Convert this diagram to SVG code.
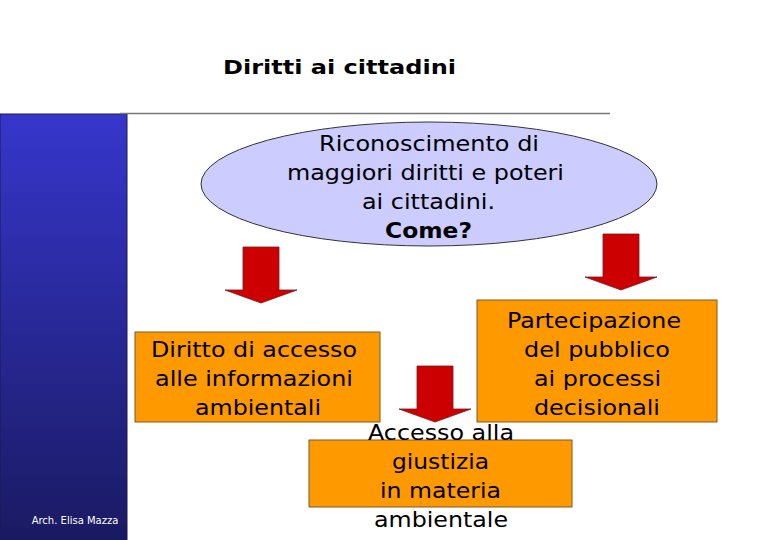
<svg xmlns="http://www.w3.org/2000/svg" width="762" height="540" viewBox="0 0 762 540">
<defs>
<linearGradient id="side" x1="0" y1="0" x2="0" y2="1">
<stop offset="0" stop-color="#3636cc"/>
<stop offset="1" stop-color="#1a1a62"/>
</linearGradient>
<path id="arrow" d="M-18,0 H18 V43 H36 L0,56 L-36,43 H-18 Z"/>
</defs>
<style>
text{font-family:"DejaVu Sans","Liberation Sans",sans-serif;fill:#000;text-anchor:middle}
.t{font-size:20.5px}
.box{fill:#ff9900;stroke:#7a5a2a;stroke-width:1}
.arr{fill:#cc0000;stroke:#7a1a1a;stroke-width:0.8}
</style>
<rect width="762" height="540" fill="#fff"/>
<rect x="0" y="114" width="127" height="426" fill="url(#side)" stroke="#1a1a55" stroke-width="1"/>
<line x1="120" y1="113.5" x2="610" y2="113.5" stroke="#777" stroke-width="1.5"/>
<text x="339.5" y="74" style="font-size:20px;font-weight:bold" textLength="233" lengthAdjust="spacingAndGlyphs">Diritti ai cittadini</text>
<text x="75" y="524" style="font-size:10px;fill:#fff">Arch. Elisa Mazza</text>
<g id="connectors">
<use href="#arrow" x="261" y="247" class="arr"/>
<use href="#arrow" x="621" y="234" class="arr"/>
<use href="#arrow" x="435" y="366" class="arr"/>
</g>
<g id="ellipse">
<ellipse cx="429" cy="184" rx="228" ry="62" fill="#ccccff" stroke="#333" stroke-width="1"/>
<text class="t" x="429" y="151" textLength="220" lengthAdjust="spacingAndGlyphs">Riconoscimento di</text>
<text class="t" x="425.5" y="180" textLength="277" lengthAdjust="spacingAndGlyphs">maggiori diritti e poteri</text>
<text class="t" x="428.5" y="209" textLength="133" lengthAdjust="spacingAndGlyphs">ai cittadini.</text>
<text class="t" x="428.5" y="238" style="font-weight:bold" textLength="87" lengthAdjust="spacingAndGlyphs">Come?</text>
</g>
<g id="box1">
<rect class="box" x="135" y="332" width="245" height="90"/>
<text class="t" x="254" y="357" textLength="206" lengthAdjust="spacingAndGlyphs">Diritto di accesso</text>
<text class="t" x="254" y="386" textLength="198" lengthAdjust="spacingAndGlyphs">alle informazioni</text>
<text class="t" x="258" y="415" textLength="126" lengthAdjust="spacingAndGlyphs">ambientali</text>
</g>
<g id="box2">
<rect class="box" x="477" y="300" width="240" height="122"/>
<text class="t" x="594" y="328" textLength="174" lengthAdjust="spacingAndGlyphs">Partecipazione</text>
<text class="t" x="597" y="357" textLength="146" lengthAdjust="spacingAndGlyphs">del pubblico</text>
<text class="t" x="597.5" y="386" textLength="127" lengthAdjust="spacingAndGlyphs">ai processi</text>
<text class="t" x="597" y="415" textLength="126" lengthAdjust="spacingAndGlyphs">decisionali</text>
</g>
<g id="box3">
<rect class="box" x="309" y="440" width="263" height="67"/>
<text class="t" x="441" y="440" textLength="146" lengthAdjust="spacingAndGlyphs">Accesso alla</text>
<text class="t" x="440.5" y="469" textLength="97" lengthAdjust="spacingAndGlyphs">giustizia</text>
<text class="t" x="440.5" y="498" textLength="121" lengthAdjust="spacingAndGlyphs">in materia</text>
<text class="t" x="441" y="527" textLength="134" lengthAdjust="spacingAndGlyphs">ambientale</text>
</g>
</svg>
